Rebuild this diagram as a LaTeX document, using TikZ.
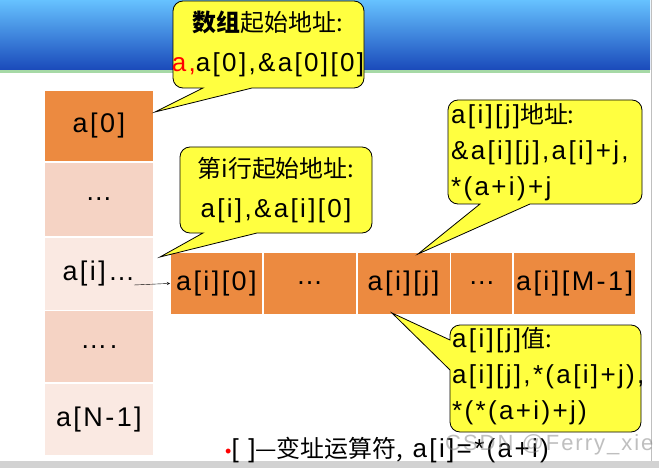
\documentclass[tikz,border=0pt]{standalone}
\usepackage{fontspec}
\setmainfont[LetterSpace=9]{Liberation Sans}
\newfontfamily\cjkf[Scale=0.92]{Noto Sans CJK SC}
\newcommand{\zh}[1]{{\cjkf #1}}
\definecolor{orng}{HTML}{EC8A40}
\definecolor{pch}{HTML}{F5D3C4}
\definecolor{lpch}{HTML}{FAE9E2}
\definecolor{yel}{HTML}{FFFF40}
\begin{document}
\begin{tikzpicture}[x=1pt,y=-1pt,
  cell/.style={draw=white,line width=0.8pt,font=\fontsize{27}{28}\selectfont,inner sep=0},
  co/.style={fill=yel,draw=black,line width=0.8pt},
  cot/.style={font=\fontsize{26}{36}\selectfont,align=left,inner sep=0}]
\useasboundingbox (0,0) rectangle (659,468);
\fill[white] (0,0) rectangle (659,468);
\shade[top color=blue!40!cyan!60!white,bottom color=blue!70!cyan!70!black!90] (0,0) rectangle (650,70);
\fill[gray!60!green!50] (0,70) rectangle (650,73);
\fill[gray!35] (0,461) rectangle (659,468);
\draw[gray!50] (651,0) -- (651,461);
% column
\node[cell,fill=orng,minimum width=109,minimum height=71,anchor=north west] (c0) at (44,90) {a[0]};
\node[cell,fill=pch,minimum width=109,minimum height=74,anchor=north] (c1) at (c0.south) {…};
\node[cell,fill=lpch,minimum width=109,minimum height=73,anchor=north] (c2) at (c1.south) {a[i]…};
\node[cell,fill=pch,minimum width=109,minimum height=72,anchor=north] (c3) at (c2.south) {….};
\node[cell,fill=lpch,minimum width=109,minimum height=72,anchor=north] (c4) at (c3.south) {a[N-1]};
% row
\node[cell,fill=orng,minimum width=92,minimum height=62,anchor=north west] (r0) at (170,252) {a[i][0]};
\node[cell,fill=orng,minimum width=93,minimum height=62,anchor=west] (r1) at (r0.east) {…};
\node[cell,fill=orng,minimum width=93,minimum height=62,anchor=west] (r2) at (r1.east) {a[i][j]};
\node[cell,fill=orng,minimum width=62,minimum height=62,anchor=west] (r3) at (r2.east) {…};
\node[cell,fill=orng,minimum width=122,minimum height=62,anchor=west] (r4) at (r3.east) {a[i][M-1]};
\coordinate (as) at (134,285);
\draw[->,>=stealth] (as) -- (r0.west);
% callouts
\path[co] (203,88) -- (155,112) -- (252,88) [rounded corners=10pt] -- (364,88) -- (364,1) -- (173,1) -- (173,88) [sharp corners] -- cycle;
\node[cot,align=center,font=\fontsize{26}{40}\selectfont] (t1) at (268,44) {\zh{\bfseries 数组}\zh{起始地址:}\\\textcolor{red}{a,}a[0],\&a[0][0]};
\path[co] (203,233) -- (160,257) -- (257,233) [rounded corners=10pt] -- (372,233) -- (372,147) -- (180,147) -- (180,233) [sharp corners] -- cycle;
\node[cot,align=center,font=\fontsize{26}{40}\selectfont] (t2) at (276,190) {\zh{第i行起始地址:}\\a[i],\&a[i][0]};
\path[co] (480,204) -- (418,254) -- (530,204) [rounded corners=10pt] -- (642,204) -- (642,100) -- (448,100) -- (448,204) [sharp corners] -- cycle;
\node[cot,anchor=north west] (t3) at (451,103) {a[i][j]\zh{地址:}\\\&a[i][j],a[i]+j,\\*(a+i)+j};
\path[co] (450,370) -- (392,313) -- (450,340) [rounded corners=10pt] -- (450,325) -- (641,325) -- (641,432) -- (450,432) [sharp corners] -- cycle;
\node[cot,anchor=north west] (t4) at (452,327) {a[i][j]\zh{值:}\\a[i][j],*(a[i]+j),\\*(*(a+i)+j)};
% bottom
\node[anchor=base west,inner sep=0,font=\fontsize{26}{28}\selectfont] (bt) at (225,457) {\textcolor{red}{\fontsize{18}{18}\selectfont•}[ ]\zh{—变址运算符,}\ a[i]=*(a+i)};
\node[anchor=base west,inner sep=0,font=\fontsize{22}{24}\selectfont,text=gray,opacity=0.5] (wm) at (445,450) {CSDN @Ferry\_xie};
\end{tikzpicture}
\end{document}
